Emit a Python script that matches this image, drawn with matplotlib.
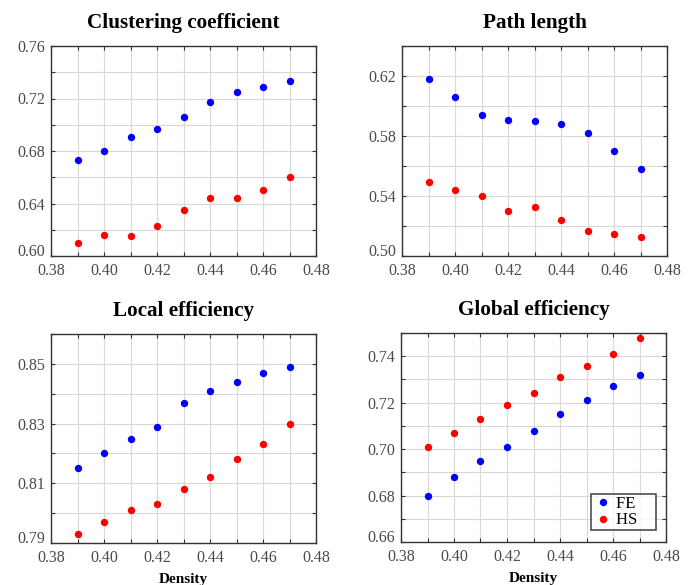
import numpy as np
import matplotlib
matplotlib.use('Agg')
import matplotlib.pyplot as plt
import matplotlib.transforms as mtransforms
from matplotlib.ticker import MultipleLocator, FuncFormatter

plt.rcParams['font.family'] = ['Liberation Serif', 'DejaVu Serif']

density = [0.39, 0.40, 0.41, 0.42, 0.43, 0.44, 0.45, 0.46, 0.47]

# clustering coefficient
clust_fe = [0.673, 0.680, 0.691, 0.697, 0.706, 0.717, 0.725, 0.729, 0.733]
clust_hs = [0.610, 0.616, 0.615, 0.623, 0.635, 0.644, 0.644, 0.650, 0.660]

# path length
path_fe = [0.618, 0.606, 0.594, 0.591, 0.590, 0.588, 0.582, 0.570, 0.558]
path_hs = [0.549, 0.544, 0.540, 0.530, 0.533, 0.524, 0.517, 0.515, 0.513]

# local efficiency
local_fe = [0.815, 0.820, 0.825, 0.829, 0.837, 0.841, 0.844, 0.847, 0.849]
local_hs = [0.793, 0.797, 0.801, 0.803, 0.808, 0.812, 0.818, 0.823, 0.830]

# global efficiency
glob_fe = [0.680, 0.688, 0.695, 0.701, 0.708, 0.715, 0.721, 0.727, 0.732]
glob_hs = [0.701, 0.707, 0.713, 0.719, 0.724, 0.731, 0.736, 0.741, 0.748]

fig = plt.figure(figsize=(6.89, 5.85), dpi=100)

W, H = 689, 585
def box(l, r, t, b):
    return [l / W, (H - b) / H, (r - l) / W, (b - t) / H]

panels = [
    (box(51, 316, 46, 256), 'Clustering coefficient', clust_fe, clust_hs, (0.60, 0.76), 0.02, False),
    (box(402, 667, 46, 256), 'Path length', path_fe, path_hs, (0.50, 0.64), 0.02, False),
    (box(51, 316, 334, 543), 'Local efficiency', local_fe, local_hs, (0.79, 0.86), 0.01, True),
    (box(401, 666, 333, 542), 'Global efficiency', glob_fe, glob_hs, (0.66, 0.75), 0.01, True),
]

def make_fmt(step, base):
    # label every other tick, like the original
    def f(v, pos):
        k = round((v - base) / step)
        if k % 2 == 0:
            return '%.2f' % v
        return ''
    return f

for i, (rect, title, fe, hs, ylim, ystep, xlab) in enumerate(panels):
    ax = fig.add_axes(rect)
    ax.plot(density, fe, 'o', color='#0000ff', ms=4.3, label='FE')
    ax.plot(density, hs, 'o', color='#ff0000', ms=4.3, label='HS')
    ax.set_xlim(0.38, 0.48)
    ax.set_ylim(*ylim)
    ax.xaxis.set_major_locator(MultipleLocator(0.01))
    ax.yaxis.set_major_locator(MultipleLocator(ystep))
    ax.xaxis.set_major_formatter(FuncFormatter(make_fmt(0.01, 0.38)))
    ax.yaxis.set_major_formatter(FuncFormatter(make_fmt(ystep, ylim[0])))
    ax.grid(True, color='#d8d8d8', lw=0.8)
    ax.set_axisbelow(True)
    ax.tick_params(direction='in', length=3, width=0.8, top=True, right=True,
                   labelsize=11.5, labelcolor='#4a4a4a', color='#333333', pad=4)
    ax.tick_params(axis='x', pad=5)
    for s in ax.spines.values():
        s.set_color('#333333')
        s.set_linewidth(1.0)
    ax.set_title(title, fontsize=15.2, fontweight='bold', pad=13)
    if xlab:
        ax.set_xlabel('Density', fontsize=11, fontweight='bold', labelpad=5)
    if i == 3:
        leg = ax.legend(['FE    ', 'HS    '], loc='lower right', fontsize=12, frameon=True,
                        fancybox=False, edgecolor='#222222', handlelength=1.2,
                        handletextpad=0.2, borderpad=0.1, labelspacing=0.05,
                        borderaxespad=0, bbox_to_anchor=(0.961, 0.057))
        leg.get_frame().set_linewidth(1.2)

    fig.canvas.draw()
    # lowest y label sits a little above its tick in the original
    for t in ax.yaxis.get_major_ticks():
        if abs(t.get_loc() - ylim[0]) < 1e-9:
            off = mtransforms.ScaledTranslation(0, 6 / 100, fig.dpi_scale_trans)
            t.label1.set_transform(t.label1.get_transform() + off)

fig.savefig('out.png', dpi=100)
